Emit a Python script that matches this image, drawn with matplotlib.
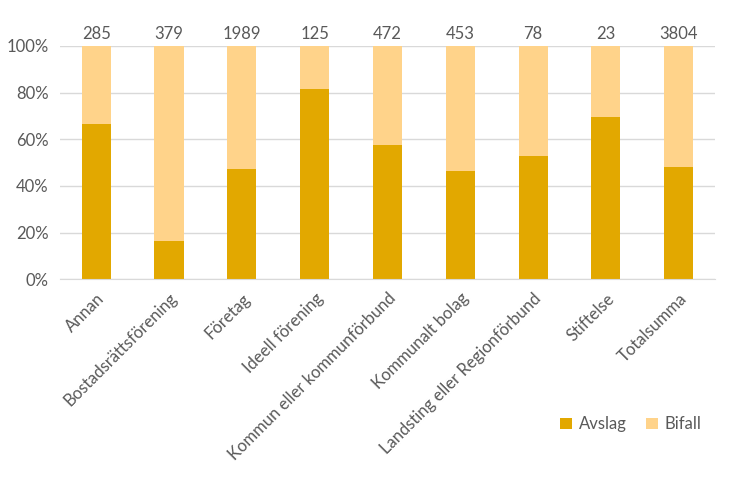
import matplotlib.pyplot as plt
import numpy as np

categories = ['Annan', 'Bostadsrättsförening', 'Företag', 'Ideell förening',
              'Kommun eller kommunförbund', 'Kommunalt bolag',
              'Landsting eller Regionförbund', 'Stiftelse', 'Totalsumma']
totals = [285, 379, 1989, 125, 472, 453, 78, 23, 3804]
avslag = [66.7, 16.4, 47.3, 81.6, 57.4, 46.4, 52.6, 69.6, 47.9]
bifall = [100 - a for a in avslag]

plt.rcParams['font.family'] = ['Lato', 'DejaVu Sans']
txt = '#595959'

fig = plt.figure(figsize=(7.38, 5.04), dpi=100)
ax = fig.add_axes([0.081, 0.446, 0.888, 0.463])

x = np.arange(len(categories))
ax.bar(x, avslag, width=0.4, color='#E2A800', label='Avslag', zorder=2)
ax.bar(x, bifall, width=0.4, bottom=avslag, color='#FFD38A', label='Bifall', zorder=2)

for xi, t in zip(x, totals):
    ax.text(xi, 101.5, str(t), ha='center', va='bottom', fontsize=12, color=txt)

ax.set_xlim(-0.5, len(categories) - 0.5)
ax.set_ylim(0, 100)
ax.set_yticks(range(0, 101, 20))
ax.set_yticklabels([f'{v}%' for v in range(0, 101, 20)])
ax.yaxis.grid(True, color='#D9D9D9', linewidth=1, zorder=0)
ax.set_xticks(x)
ax.set_xticklabels(categories, rotation=45, ha='right', rotation_mode='anchor')
ax.tick_params(axis='both', length=0, labelsize=12, colors=txt)
ax.tick_params(axis='x', pad=8)
ax.tick_params(axis='y', pad=8)
for s in ['top', 'right', 'left']:
    ax.spines[s].set_visible(False)
ax.spines['bottom'].set_color('#D9D9D9')

fig.legend(loc='center', bbox_to_anchor=(0.855, 0.158), ncol=2, frameon=False,
           fontsize=12, labelcolor=txt, handlelength=0.7, handleheight=0.7,
           columnspacing=1.2, handletextpad=0.4)

plt.savefig('out.png')
